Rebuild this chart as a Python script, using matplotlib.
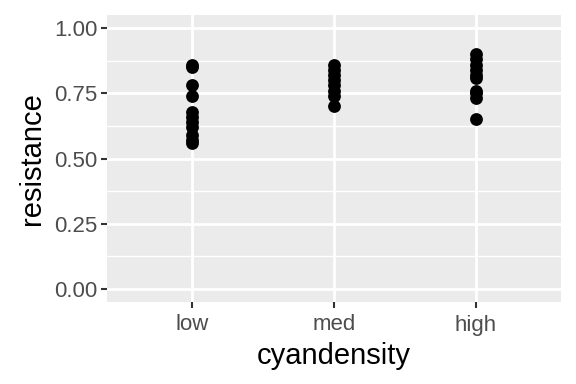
import matplotlib
matplotlib.use("Agg")
import matplotlib.pyplot as plt
import numpy as np

plt.rcParams["font.family"] = ["Liberation Sans", "DejaVu Sans"]

categories = ["low", "med", "high"]
low_vals = [0.86, 0.85, 0.78, 0.74, 0.68, 0.66, 0.64, 0.62, 0.59, 0.57, 0.56]
med_vals = [0.86, 0.84, 0.82, 0.80, 0.78, 0.76, 0.74, 0.70]
high_vals = [0.90, 0.88, 0.86, 0.84, 0.82, 0.81, 0.76, 0.75, 0.73, 0.65]
y_ticks = [0.00, 0.25, 0.50, 0.75, 1.00]

fig = plt.figure(figsize=(5.76, 3.84), dpi=100)
ax = fig.add_axes([107 / 576, 1 - 302 / 384, 454 / 576, 287 / 384])
ax.set_facecolor("#EBEBEB")

for i, vals in enumerate([low_vals, med_vals, high_vals]):
    ax.scatter(np.full(len(vals), i + 1), vals, s=85, color="black", zorder=3, linewidths=0)

ax.set_xlim(0.4, 3.6)
ax.set_ylim(-0.05, 1.05)
ax.set_xticks([1, 2, 3])
ax.set_xticklabels(categories)
ax.set_yticks(y_ticks)
ax.set_yticklabels([f"{t:.2f}" for t in y_ticks])
ax.set_yticks([0.125, 0.375, 0.625, 0.875], minor=True)

ax.grid(True, which="major", color="white", linewidth=2.0, zorder=0)
ax.grid(True, which="minor", axis="y", color="white", linewidth=1.0, zorder=0)
ax.set_axisbelow(True)
for s in ax.spines.values():
    s.set_visible(False)

ax.tick_params(axis="both", which="major", length=4, width=1.5, color="#333333",
               labelsize=16, labelcolor="#4D4D4D", pad=3)
ax.tick_params(axis="x", which="major", pad=5)
ax.tick_params(axis="both", which="minor", length=0)
ax.set_xlabel("cyandensity", fontsize=21, labelpad=5)
ax.set_ylabel("resistance", fontsize=21, labelpad=6)

fig.savefig("out.png", dpi=100)
